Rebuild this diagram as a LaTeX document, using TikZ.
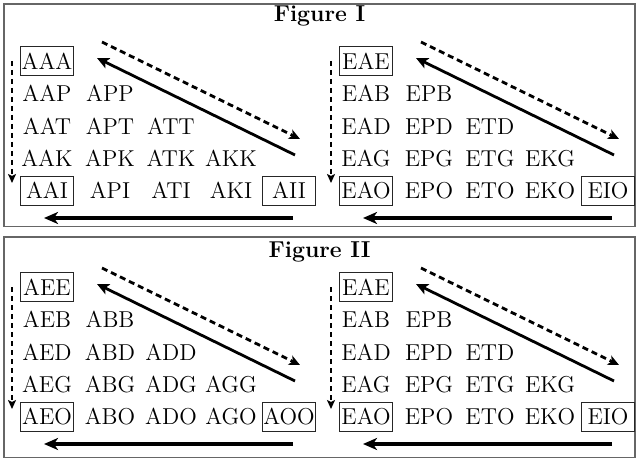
\documentclass[tikz,border=0pt]{standalone}
\usepackage{amsmath, amssymb}
\usetikzlibrary{arrows.meta}

\tikzset{
  word/.style={inner sep=0pt, font=\fontsize{11.5}{14}\selectfont, text height=7.9pt, text depth=0pt},
  boxword/.style={draw=black!85, line width=0.45pt, minimum width=26.5pt, minimum height=14.5pt},
  corner 1-1/.style={boxword},
  corner 1-5/.style={boxword},
  corner 5-5/.style={boxword},
  frame/.style={draw=black!60, line width=0.7pt},
  figtitle/.style={anchor=base, font=\fontsize{11.5}{14}\selectfont\bfseries},
  downarrow/.style={line width=1.4pt, dash pattern=on 2.5pt off 2pt, -{Stealth[length=4.5pt,width=4pt,inset=1pt]}},
  dasharrow/.style={line width=1.4pt, dash pattern=on 3pt off 2pt, -{Stealth[length=5.5pt,width=5pt,inset=1.5pt]}},
  fullarrow/.style={line width=1.4pt, -{Stealth[length=6pt,width=5.5pt,inset=1.5pt]}},
  basearrow/.style={line width=2pt, -{Stealth[length=7pt,width=6pt,inset=2pt]}}
}

% one triangle of words: #1 shift, #2 name, #3 first letter,
% #4 letters along the columns, #5 letters down the rows
\newcommand{\wordpanel}[5]{%
  \begin{scope}[shift={#1}]
    \foreach \rl [count=\rw] in {#5}
      \foreach \cl [count=\cn] in {#4} {
        \ifnum\cn>\rw\relax\else
          \pgfmathsetmacro\colx{{47,110,171,231,289}[\cn-1]}
          \node[word, corner \cn-\rw/.try] (#2-\cn-\rw) at (\colx, 29+32.4*\rw) {#3\cl\rl};
        \fi
      }
    \coordinate (#2-vtop) at (12,61);
    \coordinate (#2-vtip) at (12,183);
    \coordinate (#2-dtop) at (102,42);
    \coordinate (#2-dtip) at (300,139);
    \coordinate (#2-sfoot) at (295,155);
    \coordinate (#2-stip) at (97,58);
    \coordinate (#2-bfoot) at (293,218);
    \coordinate (#2-btip) at (44,218);
    \draw[downarrow] (#2-vtop) -- (#2-vtip);
    \draw[dasharrow] (#2-dtop) -- (#2-dtip);
    \draw[fullarrow] (#2-sfoot) -- (#2-stip);
    \draw[basearrow] (#2-bfoot) -- (#2-btip);
  \end{scope}}

\begin{document}
\begin{tikzpicture}[x=0.5pt, y=-0.5pt]
  \useasboundingbox (0,0) rectangle (638,460);

  % first figure
  \draw[frame] (4,4) rectangle (635,226.5);
  \node[figtitle] (titleone) at (319.5,22) {Figure I};
  \wordpanel{(0,0)}{ia}{A}{A,P,T,K,I}{A,P,T,K,I}
  \wordpanel{(319,0)}{ie}{E}{A,P,T,K,I}{E,B,D,G,O}

  % second figure
  \draw[frame] (4,237) rectangle (635,457.5);
  \node[figtitle] (titletwo) at (319.5,257) {Figure II};
  \wordpanel{(0,226)}{iia}{A}{E,B,D,G,O}{E,B,D,G,O}
  \wordpanel{(319,226)}{iie}{E}{A,P,T,K,I}{E,B,D,G,O}
\end{tikzpicture}
\end{document}
